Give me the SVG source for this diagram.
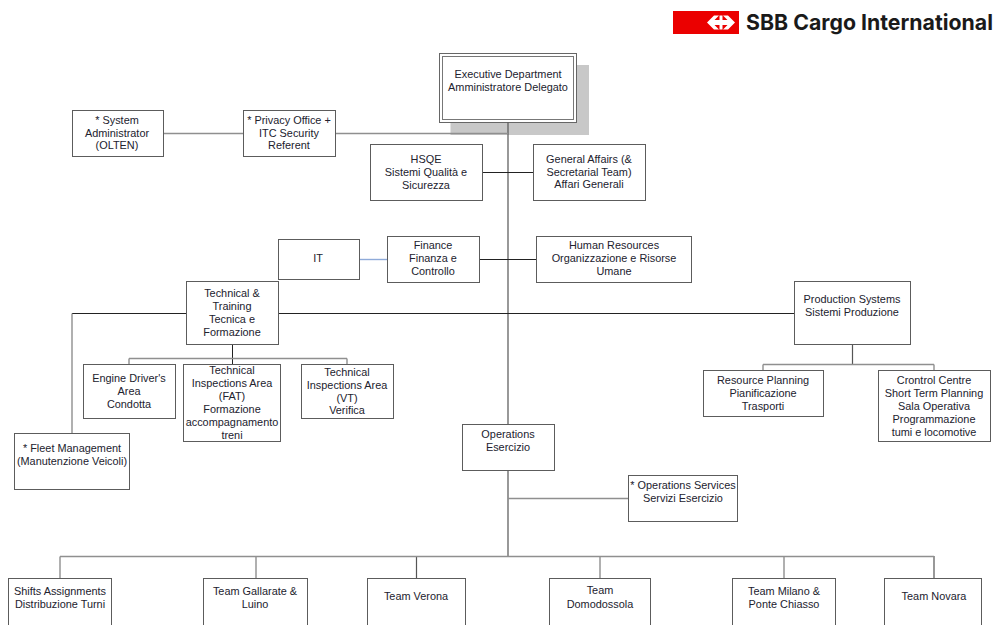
<svg xmlns="http://www.w3.org/2000/svg" width="995" height="625" viewBox="0 0 995 625">
<style>
.b{fill:#fff;stroke:#5c5c5c;stroke-width:1}
text{font-family:"Liberation Sans",Arial,sans-serif;font-size:10.9px;fill:#22222e;text-anchor:middle}
.k{fill:none;stroke:#222;stroke-width:1}
.d{fill:none;stroke:#555;stroke-width:1.2}
.g{fill:none;stroke:#8f8f8f;stroke-width:1.4}
</style>
<rect width="995" height="625" fill="#fff"/>
<g id="logo">
<rect x="673" y="11" width="66" height="23" fill="#eb0000"/>
<path d="M707 22.500L714 15.500H719L714.500 20H719.500V15.500H722.500V20H727.500L723 15.500H728L735 22.500L728 29.500H723L727.500 25H722.500V29.500H719.500V25H714.500L719 29.500H714Z" fill="#fff"/>
<text x="746" y="30" textLength="247" lengthAdjust="spacingAndGlyphs" style="font-family:Inter,'Liberation Sans',sans-serif;font-size:21.500px;font-weight:700;text-anchor:start;fill:#1a1a1a">SBB Cargo International</text>
</g>
<g id="exec">
<rect x="450.500" y="65" width="138.500" height="70" fill="#c8c8c8"/>
<rect x="439.500" y="53.500" width="137" height="69" fill="#fff" stroke="#666" stroke-width="1"/>
<rect x="442.500" y="56.500" width="131" height="63" fill="#fff" stroke="#777" stroke-width="1"/>
<text x="508" y="78">Executive Department</text><text x="508" y="91">Amministratore Delegato</text>
</g>
<g id="connectors">
<path class="d" d="M508 122.500V556M416.500 556V578M934 556V578M852.500 344V364"/>
<path class="k" d="M482 172.500H533M480 259.500H536M72 313.500H186M278 313.500H794M232.500 344V364"/>
<path d="M359 259.500H387" fill="none" stroke="#8fabd9" stroke-width="1.400"/>
<path class="g" d="M163 133.500H244M335 133.500H508M508 498.500H628M72 313.500V433M129 358.500H347M129 358.500V364M347 358.500V364M763 364.500H934M763 364.500V370M934 364.500V370M60 556.500H934M60 556.500V578M256 556.500V578M600 556.500V578M784 556.500V578"/>
</g>
<g id="sysadmin"><rect class="b" x="72.500" y="110.500" width="91" height="46"/><text x="117" y="124">* System</text><text x="117" y="137">Administrator</text><text x="117" y="149">(OLTEN)</text></g>
<g id="privacy"><rect class="b" x="243.500" y="110.500" width="92" height="46"/><text x="289" y="124">* Privacy Office +</text><text x="289" y="137">ITC Security</text><text x="289" y="149">Referent</text></g>
<g id="hsqe"><rect class="b" x="370.500" y="144.500" width="112" height="56"/><text x="426" y="163">HSQE</text><text x="426" y="176">Sistemi Qualità e</text><text x="426" y="189">Sicurezza</text></g>
<g id="general"><rect class="b" x="533.500" y="144.500" width="112" height="56"/><text x="589" y="163">General Affairs (&amp;</text><text x="589" y="176">Secretarial Team)</text><text x="589" y="188">Affari Generali</text></g>
<g id="it"><rect class="b" x="278.500" y="239.500" width="81" height="40"/><text x="318" y="262">IT</text></g>
<g id="finance"><rect class="b" x="387.500" y="236.500" width="92" height="46"/><text x="433" y="249">Finance</text><text x="433" y="262">Finanza e</text><text x="433" y="275">Controllo</text></g>
<g id="hr"><rect class="b" x="536.500" y="236.500" width="155" height="46"/><text x="614" y="249">Human Resources</text><text x="614" y="262">Organizzazione e Risorse</text><text x="614" y="275">Umane</text></g>
<g id="technical"><rect class="b" x="186.500" y="281.500" width="92" height="63"/><text x="232" y="297">Technical &amp;</text><text x="232" y="310">Training</text><text x="232" y="323">Tecnica e</text><text x="232" y="336">Formazione</text></g>
<g id="production"><rect class="b" x="794.500" y="281.500" width="116" height="63"/><text x="852" y="303">Production Systems</text><text x="852" y="316">Sistemi Produzione</text></g>
<g id="engine"><rect class="b" x="83.500" y="364.500" width="92" height="54"/><text x="129" y="382">Engine Driver's</text><text x="129" y="395">Area</text><text x="129" y="408">Condotta</text></g>
<g id="fat"><rect class="b" x="183.500" y="364.500" width="97" height="77"/><text x="232" y="374">Technical</text><text x="232" y="387">Inspections Area</text><text x="232" y="400">(FAT)</text><text x="232" y="413">Formazione</text><text x="232" y="426">accompagnamento</text><text x="232" y="439">treni</text></g>
<g id="vt"><rect class="b" x="301.500" y="364.500" width="92" height="54"/><text x="347" y="376">Technical</text><text x="347" y="389">Inspections Area</text><text x="347" y="402">(VT)</text><text x="347" y="414">Verifica</text></g>
<g id="fleet"><rect class="b" x="14.500" y="433.500" width="115" height="56"/><text x="72" y="452">* Fleet Management</text><text x="72" y="465">(Manutenzione Veicoli)</text></g>
<g id="resource"><rect class="b" x="703.500" y="370.500" width="120" height="46"/><text x="763" y="384">Resource Planning</text><text x="763" y="397">Pianificazione</text><text x="763" y="410">Trasporti</text></g>
<g id="control"><rect class="b" x="878.500" y="370.500" width="112" height="71"/><text x="934" y="384">Crontrol Centre</text><text x="934" y="397">Short Term Planning</text><text x="934" y="410">Sala Operativa</text><text x="934" y="423">Programmazione</text><text x="934" y="436">tumi e locomotive</text></g>
<g id="operations"><rect class="b" x="462.500" y="424.500" width="92" height="46"/><text x="508" y="438">Operations</text><text x="508" y="451">Esercizio</text></g>
<g id="opservices"><rect class="b" x="628.500" y="475.500" width="109" height="46"/><text x="683" y="489">* Operations Services</text><text x="683" y="502">Servizi Esercizio</text></g>
<g id="shifts"><rect class="b" x="8.500" y="578.500" width="103" height="60"/><text x="60" y="595">Shifts Assignments</text><text x="60" y="608">Distribuzione Turni</text></g>
<g id="gallarate"><rect class="b" x="203.500" y="578.500" width="104" height="60"/><text x="255" y="595">Team Gallarate &amp;</text><text x="255" y="608">Luino</text></g>
<g id="verona"><rect class="b" x="367.500" y="578.500" width="98" height="60"/><text x="416" y="600">Team Verona</text></g>
<g id="domodossola"><rect class="b" x="549.500" y="578.500" width="101" height="60"/><text x="600" y="594">Team</text><text x="600" y="608">Domodossola</text></g>
<g id="milano"><rect class="b" x="732.500" y="578.500" width="103" height="60"/><text x="784" y="595">Team Milano &amp;</text><text x="784" y="608">Ponte Chiasso</text></g>
<g id="novara"><rect class="b" x="884.500" y="578.500" width="97" height="60"/><text x="934" y="600">Team Novara</text></g>
</svg>
